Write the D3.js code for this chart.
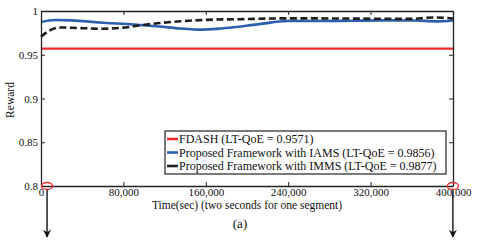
<!DOCTYPE html>
<html lang="en">
<head>
<meta charset="UTF-8">
<title>Reward</title>
<style>
  body { margin: 0; background: #fff; }
  svg text { font-family: "Liberation Serif", "DejaVu Serif", serif !important; fill: #111; }
</style>
</head>
<body>
<svg id="chart"></svg>
<script src="https://cdnjs.cloudflare.com/ajax/libs/d3/7.8.5/d3.min.js"></script>
<script>
// time in seconds
var fdashTime = [0, 400000];
var fdashReward = [0.9571, 0.9571];

var iamsTime = [0, 14000, 30000, 57000, 90000, 115000, 135000, 154000, 175000, 212000, 239000, 270000, 300000, 330000, 360000, 385000, 400000];
var iamsReward = [0.9874, 0.9897, 0.9893, 0.9868, 0.9845, 0.9822, 0.9800, 0.9787, 0.9800, 0.9850, 0.9886, 0.9885, 0.9888, 0.9893, 0.9892, 0.9882, 0.9892];

var immsTime = [0, 8700, 18000, 35000, 57000, 80000, 96000, 115000, 135000, 157000, 200000, 240000, 280000, 320000, 360000, 380000, 400000];
var immsReward = [0.9705, 0.9780, 0.9812, 0.9806, 0.9797, 0.9810, 0.9835, 0.9862, 0.9882, 0.9897, 0.9908, 0.9916, 0.9915, 0.9912, 0.9910, 0.9926, 0.9915];

var seriesNames = ["FDASH (LT-QoE = 0.9571)",
                   "Proposed Framework with IAMS (LT-QoE = 0.9856)",
                   "Proposed Framework with IMMS (LT-QoE = 0.9877)"];
var seriesColours = ["#ec2a2e", "#2c5fae", "#1e1e1e"];

var xTicks = [0, 80000, 160000, 240000, 320000, 400000];
var yTicks = [0.8, 0.85, 0.9, 0.95, 1];

var width = 478, height = 241;
var margin = {top: 11, right: 25, bottom: 55, left: 41};
var serif = "'Liberation Serif', 'DejaVu Serif', serif";

var svg = d3.select("#chart").attr("width", width).attr("height", height);

var x = d3.scaleLinear().domain([0, 400000]).range([margin.left, width - margin.right]);
var y = d3.scaleLinear().domain([0.8, 1]).range([height - margin.bottom, margin.top]);

// series lines
var line = d3.line()
    .x(function(d) { return x(d[0]); })
    .y(function(d) { return y(d[1]); })
    .curve(d3.curveMonotoneX);

var series = [
  d3.zip(fdashTime, fdashReward),
  d3.zip(iamsTime, iamsReward),
  d3.zip(immsTime, immsReward)
];

svg.append("g").selectAll("path")
  .data(series)
  .enter().append("path")
    .attr("d", line)
    .attr("fill", "none")
    .attr("stroke", function(d, i) { return seriesColours[i]; })
    .attr("stroke-width", function(d, i) { return i == 0 ? 2.2 : 2.6; })
    .attr("stroke-dasharray", function(d, i) { return i == 2 ? "7,3.5" : null; });

// axes, ticks pointing inward like matlab
var fmtX = d3.format(",");
var fmtY = function(d) { return String(+d.toFixed(2)); };

svg.append("g")
  .attr("transform", "translate(0," + y(0.8) + ")")
  .call(d3.axisBottom(x).tickValues(xTicks).tickFormat(fmtX).tickSizeInner(-4).tickSizeOuter(0).tickPadding(2))
  .call(styleAxis);

svg.append("g")
  .attr("transform", "translate(0," + y(1) + ")")
  .call(d3.axisTop(x).tickValues(xTicks).tickFormat("").tickSizeInner(-4).tickSizeOuter(0))
  .call(styleAxis);

svg.append("g")
  .attr("transform", "translate(" + x(0) + ",0)")
  .call(d3.axisLeft(y).tickValues(yTicks).tickFormat(fmtY).tickSizeInner(-4).tickSizeOuter(0).tickPadding(3))
  .call(styleAxis);

svg.append("g")
  .attr("transform", "translate(" + x(400000) + ",0)")
  .call(d3.axisRight(y).tickValues(yTicks).tickFormat("").tickSizeInner(-4).tickSizeOuter(0))
  .call(styleAxis);

function styleAxis(g) {
  g.attr("font-family", serif);
  g.select(".domain").attr("stroke", "#222").attr("stroke-width", 1.3);
  g.selectAll(".tick line").attr("stroke", "#222").attr("stroke-width", 1);
  g.selectAll(".tick text").attr("font-size", "11px").attr("fill", "#111")
    .attr("font-family", serif);
}

// axis titles
svg.append("text")
  .attr("x", (x(0) + x(400000)) / 2)
  .attr("y", 209)
  .attr("text-anchor", "middle")
  .attr("font-family", serif)
  .attr("font-size", "11.5px")
  .text("Time(sec) (two seconds for one segment)");

svg.append("text")
  .attr("transform", "translate(14," + 100 + ") rotate(-90)")
  .attr("text-anchor", "middle")
  .attr("font-family", serif)
  .attr("font-size", "11.5px")
  .text("Reward");

svg.append("text")
  .attr("x", 240)
  .attr("y", 228)
  .attr("text-anchor", "middle")
  .attr("font-family", serif)
  .attr("font-size", "13px")
  .text("(a)");

// legend
var legend = svg.append("g").attr("transform", "translate(165,131)");
legend.append("rect")
  .attr("width", 281).attr("height", 43)
  .attr("fill", "#fff").attr("stroke", "#222").attr("stroke-width", 1.2);

var rows = legend.selectAll(".row")
  .data(seriesNames)
  .enter().append("g")
    .attr("class", "row")
    .attr("transform", function(d, i) { return "translate(0," + (8 + i * 13.5) + ")"; });

rows.append("line")
  .attr("x1", 2).attr("x2", 13)
  .attr("stroke", function(d, i) { return seriesColours[i]; })
  .attr("stroke-width", 2.6);

rows.append("text")
  .attr("x", 14).attr("dy", "0.35em")
  .attr("font-family", serif)
  .attr("font-size", "12px")
  .text(function(d) { return d; });

// red markers and arrows at the start and the end
var marks = [2000, 396000];
svg.append("defs").append("marker")
  .attr("id", "head")
  .attr("viewBox", "0 0 10 10")
  .attr("refX", 9).attr("refY", 5)
  .attr("markerWidth", 11).attr("markerHeight", 8)
  .attr("markerUnits", "userSpaceOnUse")
  .attr("orient", "auto")
  .append("path").attr("d", "M0,0 L10,5 L0,10 L3,5 Z").attr("fill", "#111");

svg.selectAll(".arrow")
  .data(marks)
  .enter().append("line")
    .attr("class", "arrow")
    .attr("x1", function(d) { return x(d) + 4; })
    .attr("x2", function(d) { return x(d) + 4; })
    .attr("y1", y(0.8) + 3)
    .attr("y2", 237)
    .attr("stroke", "#111").attr("stroke-width", 1.4)
    .attr("marker-end", "url(#head)");

svg.selectAll(".ring")
  .data(marks)
  .enter().append("ellipse")
    .attr("class", "ring")
    .attr("cx", function(d) { return x(d) + 4; })
    .attr("cy", y(0.8))
    .attr("rx", 5.5).attr("ry", 3.5)
    .attr("fill", "none").attr("stroke", "#ec2a2e").attr("stroke-width", 1.3);
</script>
</body>
</html>
